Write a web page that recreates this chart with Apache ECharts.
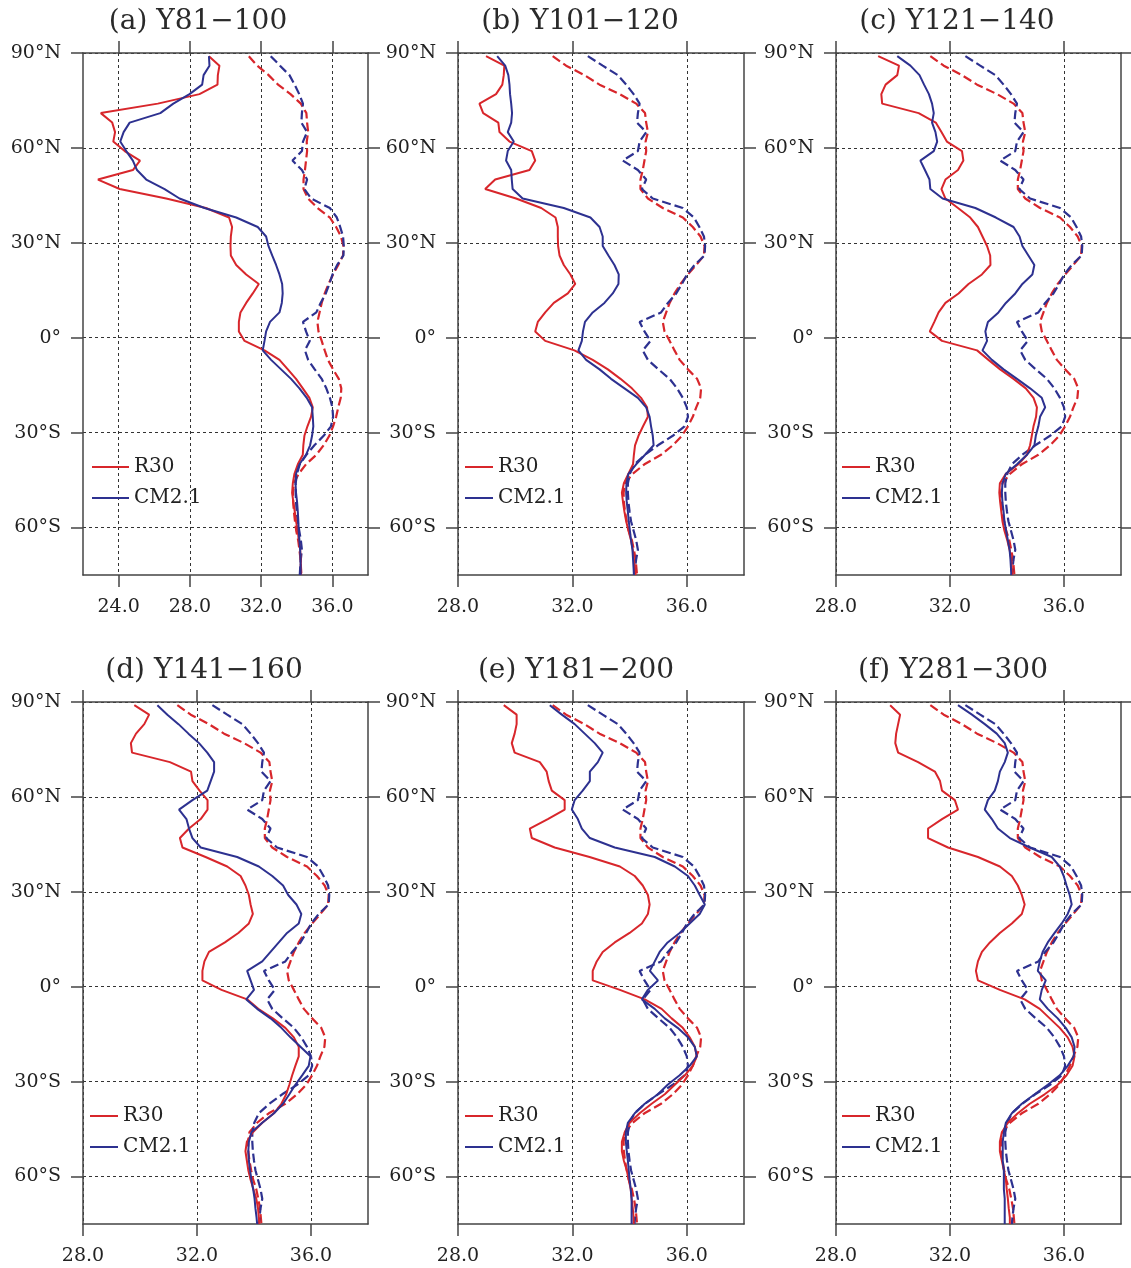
<!DOCTYPE html>
<html>
<head>
<meta charset="utf-8">
<title>Zonal mean salinity profiles</title>
<script src="https://cdn.jsdelivr.net/npm/echarts@6/dist/echarts.min.js"></script>
<style>
  html, body { margin: 0; padding: 0; background: #fff; }
  #chart { width: 1131px; height: 1268px; }
</style>
</head>
<body>
<div id="chart"></div>
<script>
// latitude of every sample (shared by all curves), north to south
const lats = [89, 86, 83, 80, 77, 74, 71, 68, 65, 62, 59, 56, 53, 50, 47, 44, 41, 38, 35, 32,
  29, 26, 23, 20, 17, 14, 11, 8, 5, 2, -1, -4, -7, -10, -13, -16, -19, -22, -25, -28,
  -31, -34, -37, -40, -43, -46, -49, -52, -55, -58, -61, -64, -67, -70, -73, -75];

const latTicks = [-60, -30, 0, 30, 60, 90];
const salTicksA = [24, 28, 32, 36];
const salTicks = [28, 32, 36];

// dashed curves (identical in every panel)
const r30Dash = [31.31, 31.78, 32.42, 32.95, 33.65, 34.23, 34.54, 34.58, 34.64, 34.56, 34.58, 34.52, 34.46, 34.38, 34.38, 34.64, 35.16, 35.86, 36.21, 36.48,
  36.62, 36.6, 36.33, 36.04, 35.78, 35.57, 35.4, 35.28, 35.16, 35.22, 35.4, 35.57, 35.75, 36.04, 36.36, 36.5, 36.47, 36.33, 36.21, 36.04,
  35.83, 35.51, 35.1, 34.52, 34.11, 33.84, 33.79, 33.8, 33.84, 33.9, 33.97, 34.08, 34.15, 34.21, 34.24, 34.26];
const cm21Dash = [32.54, 33.06, 33.59, 33.88, 34.14, 34.35, 34.29, 34.26, 34.58, 34.35, 34.29, 33.76, 34.29, 34.58, 34.43, 34.81, 35.86, 36.25, 36.44, 36.6,
  36.64, 36.62, 36.27, 36.01, 35.83, 35.63, 35.34, 35.1, 34.35, 34.52, 34.73, 34.46, 34.64, 35.01, 35.4, 35.66, 35.86, 36.0, 36.04, 35.92,
  35.51, 34.99, 34.54, 34.17, 34.01, 33.94, 33.94, 33.96, 34.0, 34.05, 34.14, 34.23, 34.29, 34.23, 34.19, 34.17];

// solid curves, one pair per panel
const r30A = [29.07, 29.66, 29.57, 29.55, 28.54, 26.2, 23.0, 23.64, 23.8, 23.7, 24.34, 25.2, 24.8, 22.84, 24.06, 26.67, 28.9, 30.2, 30.37, 30.3,
  30.28, 30.3, 30.6, 31.16, 31.87, 31.53, 31.16, 30.84, 30.75, 30.75, 31.07, 32.19, 33.03, 33.5, 33.96, 34.34, 34.71, 34.9, 34.8, 34.6,
  34.43, 34.37, 34.34, 34.06, 33.87, 33.78, 33.74, 33.81, 33.89, 33.96, 34.06, 34.11, 34.19, 34.22, 34.24, 34.24];
const cm21A = [29.07, 29.1, 28.77, 28.69, 27.98, 27.07, 26.34, 24.62, 24.28, 24.09, 24.43, 24.8, 25.03, 25.55, 26.58, 27.42, 28.82, 30.6, 31.81, 32.28,
  32.41, 32.62, 32.84, 33.03, 33.18, 33.21, 33.16, 33.03, 32.5, 32.28, 32.19, 32.09, 32.56, 33.12, 33.68, 34.15, 34.56, 34.86, 34.9, 34.93,
  34.86, 34.75, 34.52, 34.15, 33.96, 33.93, 33.96, 34.02, 34.06, 34.09, 34.11, 34.15, 34.19, 34.21, 34.22, 34.22];

const r30B = [28.98, 29.62, 29.6, 29.55, 29.33, 28.75, 28.88, 29.41, 29.45, 29.8, 30.58, 30.7, 30.5, 29.3, 28.95, 30.03, 30.91, 31.41, 31.49, 31.49,
  31.5, 31.55, 31.7, 31.93, 32.1, 31.84, 31.35, 31.05, 30.79, 30.7, 31.05, 32.07, 32.71, 33.24, 33.68, 34.08, 34.4, 34.61, 34.64, 34.47,
  34.31, 34.19, 34.15, 34.12, 33.96, 33.8, 33.73, 33.77, 33.82, 33.88, 33.96, 34.05, 34.11, 34.15, 34.19, 34.21];
const cm21B = [29.37, 29.65, 29.76, 29.8, 29.82, 29.86, 29.89, 29.86, 29.74, 29.95, 29.74, 29.68, 29.86, 29.88, 29.91, 30.26, 31.7, 32.63, 32.95, 33.06,
  33.06, 33.26, 33.47, 33.62, 33.61, 33.41, 33.12, 32.71, 32.44, 32.37, 32.33, 32.21, 32.48, 32.95, 33.35, 33.82, 34.29, 34.58, 34.7, 34.75,
  34.81, 34.84, 34.54, 34.23, 33.96, 33.89, 33.88, 33.9, 33.94, 33.97, 34.01, 34.05, 34.1, 34.12, 34.14, 34.15];

const r30C = [29.48, 30.21, 30.15, 29.74, 29.59, 29.62, 30.9, 31.5, 31.7, 31.89, 32.42, 32.47, 32.28, 31.84, 31.7, 31.84, 32.28, 32.71, 32.98, 33.14,
  33.3, 33.41, 33.42, 33.12, 32.65, 32.3, 31.84, 31.6, 31.45, 31.29, 31.72, 32.95, 33.35, 33.76, 34.23, 34.66, 34.93, 35.05, 35.02, 34.93,
  34.87, 34.81, 34.7, 34.4, 33.96, 33.75, 33.73, 33.76, 33.8, 33.84, 33.91, 34.01, 34.09, 34.15, 34.17, 34.19];
const cm21C = [30.15, 30.61, 30.93, 31.09, 31.26, 31.37, 31.43, 31.37, 31.49, 31.55, 31.43, 30.96, 31.12, 31.28, 31.31, 31.74, 32.89, 33.61, 34.23, 34.44,
  34.54, 34.75, 34.96, 34.89, 34.54, 34.29, 33.96, 33.7, 33.33, 33.24, 33.3, 33.14, 33.47, 33.88, 34.35, 34.81, 35.22, 35.34, 35.16, 35.1,
  35.01, 34.96, 34.7, 34.35, 33.96, 33.84, 33.82, 33.84, 33.88, 33.91, 33.97, 34.03, 34.09, 34.12, 34.14, 34.15];

const r30D = [29.8, 30.32, 30.15, 29.86, 29.68, 29.72, 31.05, 31.79, 31.84, 32.09, 32.37, 32.37, 32.13, 31.72, 31.4, 31.49, 32.3, 33.06, 33.53, 33.7,
  33.82, 33.88, 33.96, 33.82, 33.45, 32.98, 32.42, 32.26, 32.19, 32.19, 32.86, 33.76, 34.15, 34.66, 35.1, 35.4, 35.57, 35.57, 35.45, 35.34,
  35.24, 35.13, 34.96, 34.7, 34.29, 33.96, 33.75, 33.7, 33.75, 33.8, 33.88, 33.98, 34.08, 34.14, 34.17, 34.19];
const cm21D = [30.61, 30.96, 31.35, 31.7, 32.07, 32.36, 32.6, 32.6, 32.48, 32.36, 31.84, 31.37, 31.63, 31.72, 31.84, 32.13, 33.41, 34.17, 34.64, 35.02,
  35.2, 35.49, 35.66, 35.57, 35.16, 34.87, 34.58, 34.29, 33.76, 33.88, 34.0, 33.73, 34.11, 34.58, 34.96, 35.28, 35.63, 35.98, 35.92, 35.69,
  35.45, 35.24, 35.02, 34.7, 34.29, 33.91, 33.82, 33.8, 33.82, 33.86, 33.91, 33.97, 34.02, 34.05, 34.09, 34.11];

const r30E = [29.6, 30.05, 30.05, 29.98, 29.88, 29.98, 30.86, 31.1, 31.17, 31.28, 31.73, 31.73, 31.14, 30.51, 30.58, 31.38, 32.6, 33.66, 34.18, 34.46,
  34.64, 34.7, 34.64, 34.43, 34.0, 33.48, 33.06, 32.85, 32.71, 32.71, 33.66, 34.53, 35.12, 35.47, 35.86, 36.1, 36.28, 36.35, 36.21, 35.93,
  35.58, 35.23, 34.77, 34.35, 34.0, 33.83, 33.73, 33.73, 33.8, 33.9, 33.97, 34.04, 34.07, 34.11, 34.14, 34.14];
const cm21E = [31.21, 31.63, 32.08, 32.43, 32.78, 33.06, 32.89, 32.61, 32.61, 32.36, 32.08, 31.98, 32.19, 32.33, 32.61, 33.48, 34.88, 35.58, 36.04, 36.28,
  36.45, 36.63, 36.45, 36.1, 35.75, 35.33, 35.05, 34.88, 34.71, 34.99, 34.64, 34.43, 34.88, 35.23, 35.68, 36.04, 36.28, 36.35, 36.1, 35.75,
  35.33, 34.99, 34.53, 34.18, 33.94, 33.87, 33.87, 33.9, 33.94, 33.97, 34.0, 34.04, 34.07, 34.07, 34.07, 34.07];

const r30F = [29.9, 30.25, 30.18, 30.11, 30.08, 30.18, 30.88, 31.47, 31.65, 31.72, 32.17, 32.28, 31.72, 31.23, 31.23, 31.93, 32.98, 33.75, 34.17, 34.38,
  34.52, 34.62, 34.52, 34.17, 33.75, 33.4, 33.12, 32.98, 32.91, 32.98, 33.75, 34.62, 35.15, 35.5, 35.85, 36.13, 36.3, 36.37, 36.3, 36.09,
  35.78, 35.32, 34.8, 34.38, 34.03, 33.82, 33.75, 33.75, 33.82, 33.89, 33.96, 33.99, 34.03, 34.06, 34.1, 34.1];
const cm21F = [32.28, 32.77, 33.22, 33.64, 33.92, 34.03, 33.92, 33.75, 33.68, 33.57, 33.33, 33.22, 33.47, 33.68, 34.1, 34.8, 35.57, 35.85, 35.99, 36.09,
  36.2, 36.27, 36.13, 35.92, 35.67, 35.43, 35.25, 35.15, 35.08, 35.36, 35.22, 35.15, 35.43, 35.78, 36.06, 36.27, 36.37, 36.34, 36.13, 35.85,
  35.43, 34.97, 34.52, 34.17, 33.96, 33.89, 33.85, 33.85, 33.85, 33.89, 33.89, 33.89, 33.92, 33.92, 33.92, 33.92];

const panels = [
  { title: '(a) Y81−100', xMin: 22, ticks: salTicksA, r30: r30A, cm21: cm21A },
  { title: '(b) Y101−120', xMin: 28, ticks: salTicks, r30: r30B, cm21: cm21B },
  { title: '(c) Y121−140', xMin: 28, ticks: salTicks, r30: r30C, cm21: cm21C },
  { title: '(d) Y141−160', xMin: 28, ticks: salTicks, r30: r30D, cm21: cm21D },
  { title: '(e) Y181−200', xMin: 28, ticks: salTicks, r30: r30E, cm21: cm21E },
  { title: '(f) Y281−300', xMin: 28, ticks: salTicks, r30: r30F, cm21: cm21F },
];

// layout
const colLeft = [83, 458, 836];
const colWidth = [285, 286, 285];
const rowTop = [53, 702];
const plotH = 522;
const titleX = [198, 580, 957, 204, 576, 953];
const legendX = [92, 465, 842, 90, 465, 842];
const legendW = [37, 28, 28, 28, 28, 28];

const FONT = 'DejaVu Serif';
const RED = '#d8262b';
const BLUE = '#2d3190';
const FRAME = '#444';

const toPairs = (vals) => vals.map((v, i) => [v, lats[i]]);
const latLabel = (v) => (v === 0 ? '0°' : Math.abs(v) + '°' + (v > 0 ? 'N' : 'S'));

const chart = echarts.init(document.getElementById('chart'));

const grid = [], xAxis = [], yAxis = [], series = [], title = [], legend = [];
const frameLine = { show: true, onZero: false, lineStyle: { color: FRAME, width: 1.5 } };
const dashed = { show: true, lineStyle: { color: '#333', width: 1, type: [3, 3] } };
const tickStyle = { color: FRAME, width: 1.5 };

panels.forEach((p, i) => {
  const col = i % 3, row = Math.floor(i / 3);
  grid.push({ left: colLeft[col], top: rowTop[row], width: colWidth[col], height: plotH,
    containLabel: false, outerBoundsMode: 'none' });

  const xBase = { gridIndex: i, type: 'value', min: p.xMin, max: 38, axisLine: frameLine };
  xAxis.push(Object.assign({}, xBase, {
    position: 'bottom',
    axisTick: { show: true, inside: false, length: 12, customValues: p.ticks, lineStyle: tickStyle },
    axisLabel: { customValues: p.ticks, margin: 23, formatter: (v) => v.toFixed(1),
      fontFamily: FONT, fontSize: 19, color: '#222' },
    splitLine: dashed,
  }));
  xAxis.push(Object.assign({}, xBase, {
    position: 'top',
    axisTick: { show: true, inside: false, length: 12, customValues: p.ticks, lineStyle: tickStyle },
    axisLabel: { show: false },
    splitLine: { show: false },
  }));

  const yBase = { gridIndex: i, type: 'value', min: -75, max: 90, axisLine: frameLine };
  yAxis.push(Object.assign({}, yBase, {
    position: 'left',
    axisTick: { show: true, inside: false, length: 12, customValues: latTicks, lineStyle: tickStyle },
    axisLabel: { customValues: latTicks, margin: 22, formatter: latLabel,
      fontFamily: FONT, fontSize: 19, color: '#222' },
    splitLine: dashed,
  }));
  yAxis.push(Object.assign({}, yBase, {
    position: 'right',
    axisTick: { show: true, inside: false, length: 12, customValues: latTicks, lineStyle: tickStyle },
    axisLabel: { show: false },
    splitLine: { show: false },
  }));

  const common = { type: 'line', xAxisIndex: 2 * i, yAxisIndex: 2 * i, symbol: 'none', smooth: false };
  series.push(Object.assign({}, common, { name: 'R30 dashed', data: toPairs(r30Dash),
    lineStyle: { color: RED, width: 2.2, type: [9, 4] }, itemStyle: { color: RED } }));
  series.push(Object.assign({}, common, { name: 'CM2.1 dashed', data: toPairs(cm21Dash),
    lineStyle: { color: BLUE, width: 2.2, type: [9, 4] }, itemStyle: { color: BLUE } }));
  series.push(Object.assign({}, common, { name: 'R30', data: toPairs(p.r30),
    lineStyle: { color: RED, width: 2 }, itemStyle: { color: RED } }));
  series.push(Object.assign({}, common, { name: 'CM2.1', data: toPairs(p.cm21),
    lineStyle: { color: BLUE, width: 2 }, itemStyle: { color: BLUE } }));

  title.push({ text: p.title, left: titleX[i], top: row === 0 ? 8 : 657, textAlign: 'center', padding: 0,
    textStyle: { fontFamily: FONT, fontSize: 28, fontWeight: 'normal', color: '#2a2a2a' } });

  legend.push({ data: ['R30', 'CM2.1'], orient: 'vertical', left: legendX[i], top: row === 0 ? 457 : 1106,
    padding: 0, itemGap: 11, itemWidth: legendW[i], itemHeight: 2, icon: 'rect', selectedMode: false,
    textStyle: { fontFamily: FONT, fontSize: 20, color: '#222', lineHeight: 20 } });
});

chart.setOption({
  backgroundColor: '#fff',
  animation: false,
  title, legend, grid, xAxis, yAxis, series,
});
</script>
</body>
</html>
